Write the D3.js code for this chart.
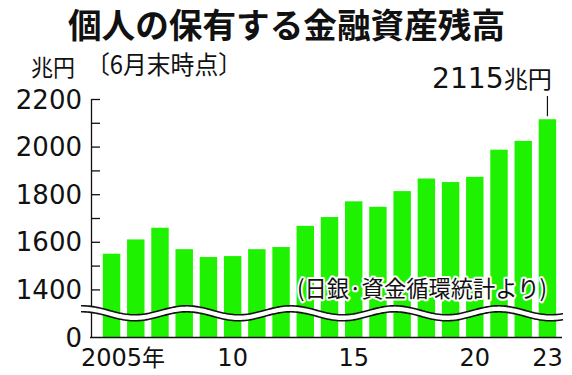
<!DOCTYPE html>
<html>
<head>
<meta charset="utf-8">
<script src="https://cdn.jsdelivr.net/npm/d3@7"></script>
<style>
  body { margin: 0; background: #fff; }
  svg { display: block; }
  text { font-family: "Noto Sans CJK JP", sans-serif; fill: #111; }
  .num { font-family: "DejaVu Sans", sans-serif; }
</style>
</head>
<body>
<svg id="chart" width="572" height="375"></svg>
<script>
// data, 兆円 at end of June
let years = [2005, 2006, 2007, 2008, 2009, 2010, 2011, 2012, 2013, 2014,
             2015, 2016, 2017, 2018, 2019, 2020, 2021, 2022, 2023]
let values = [1550, 1610, 1659, 1569, 1536, 1540, 1569, 1578, 1667, 1704,
              1770, 1747, 1813, 1866, 1851, 1873, 1987, 2024, 2115]
let yTicks = [0, 1400, 1600, 1800, 2000, 2200]
let yMinor = [1500, 1700, 1900, 2100]
let xLabels = [{ year: 2005, text: "2005", suffix: "年" }, { year: 2010, text: "10" },
               { year: 2015, text: "15" }, { year: 2020, text: "20" }, { year: 2023, text: "23" }]

let svg = d3.select("#chart")

// broken axis: everything below 1200 collapses onto the baseline
let y = d3.scaleLinear().domain([0, 1200, 2200]).range([337, 337, 99])
let x = d3.scaleBand().domain(years).range([98, 561]).paddingInner(0.28).paddingOuter(0.2)

// title
svg.append("text")
    .attr("x", 68).attr("y", 38)
    .attr("textLength", 437).attr("lengthAdjust", "spacingAndGlyphs")
    .style("font-size", "34px").style("font-weight", "bold")
    .text("個人の保有する金融資産残高")

svg.append("text")
    .attr("x", 31).attr("y", 76)
    .attr("textLength", 44).attr("lengthAdjust", "spacingAndGlyphs")
    .style("font-size", "23px")
    .text("兆円")
svg.append("text")
    .attr("x", 86).attr("y", 74)
    .attr("textLength", 156).attr("lengthAdjust", "spacingAndGlyphs")
    .style("font-size", "25px")
    .text("〔6月末時点〕")

// bars
svg.selectAll("rect.bar").data(values).enter().append("rect")
    .attr("class", "bar")
    .attr("x", (d, i) => x(years[i]))
    .attr("width", x.bandwidth())
    .attr("y", d => y(d))
    .attr("height", d => y(0) - y(d))
    .attr("fill", "#1ff200")

// y axis, ticks point inward
let yAxis = d3.axisRight(y).tickValues(yTicks.concat(yMinor)).tickSize(9).tickFormat("")
let ya = svg.append("g").attr("transform", "translate(91,0)").call(yAxis)
ya.select(".domain").attr("stroke", "#111").attr("stroke-width", 1.3).attr("d", "M0.5,99V337")
ya.selectAll(".tick line").attr("stroke", "#111").attr("stroke-width", 1.3)
ya.selectAll(".tick").filter(d => d == 0).remove()

svg.selectAll("text.ylab").data(yTicks).enter().append("text")
    .attr("class", "ylab num")
    .attr("x", 82).attr("y", d => y(d) + 9.5)
    .attr("text-anchor", "end")
    .style("font-size", "26px")
    .text(d => d)

// baseline
svg.append("line")
    .attr("x1", 90).attr("x2", 562)
    .attr("y1", 337.5).attr("y2", 337.5)
    .attr("stroke", "#111").attr("stroke-width", 1.4)

// wavy break mark across the bars
let waveX = d3.range(81, 564, 2)
let wave = off => d3.line()
    .x(d => d)
    .y(d => 313.3 + off - 4.5 * Math.sin((d - 160.7) / 104 * 2 * Math.PI))
    .curve(d3.curveBasis)(waveX)
let band = waveX.map(d => [d, 313.3 - 4.5 * Math.sin((d - 160.7) / 104 * 2 * Math.PI)])
svg.append("path")
    .attr("d", d3.area().x(d => d[0]).y0(d => d[1] - 3).y1(d => d[1] + 3).curve(d3.curveBasis)(band))
    .attr("fill", "#fff")
svg.append("path").attr("d", wave(-3)).attr("fill", "none").attr("stroke", "#111").attr("stroke-width", 1.6)
svg.append("path").attr("d", wave(3)).attr("fill", "none").attr("stroke", "#111").attr("stroke-width", 1.6)

// x labels
xLabels.forEach(l => {
    let cx = x(l.year) + x.bandwidth() / 2
    let t = svg.append("text")
        .attr("class", "num")
        .attr("y", 366)
        .style("font-size", "24px")
    t.append("tspan").text(l.text)
    if (l.suffix) {
        t.append("tspan").style("font-family", "Noto Sans CJK JP").style("font-size", "23px").text(l.suffix)
    }
    let w = t.select("tspan").node().getComputedTextLength()
    t.attr("x", cx - w / 2)
})

// source note with white halo
let src = "(日銀·資金循環統計より)"
let addSrc = halo => svg.append("text")
    .attr("x", 297).attr("y", 297)
    .attr("textLength", 250).attr("lengthAdjust", "spacingAndGlyphs")
    .style("font-size", "23px")
    .attr("stroke", halo ? "#fff" : null).attr("stroke-width", halo ? 4 : null)
    .attr("stroke-linejoin", "round")
    .style("fill", halo ? "#fff" : "#111")
    .text(src)
addSrc(true)
addSrc(false)

// latest value callout
let last = values.length - 1
let lx = x(years[last]) + x.bandwidth() / 2
svg.append("line")
    .attr("x1", lx).attr("x2", lx)
    .attr("y1", y(values[last]) - 3).attr("y2", 96)
    .attr("stroke", "#111").attr("stroke-width", 1.2)
let callout = svg.append("text")
    .attr("x", 432).attr("y", 88)
    .attr("textLength", 120).attr("lengthAdjust", "spacingAndGlyphs")
callout.append("tspan").attr("class", "num").style("font-size", "28px").text(values[last])
callout.append("tspan").style("font-size", "24px").text("兆円")
</script>
</body>
</html>
